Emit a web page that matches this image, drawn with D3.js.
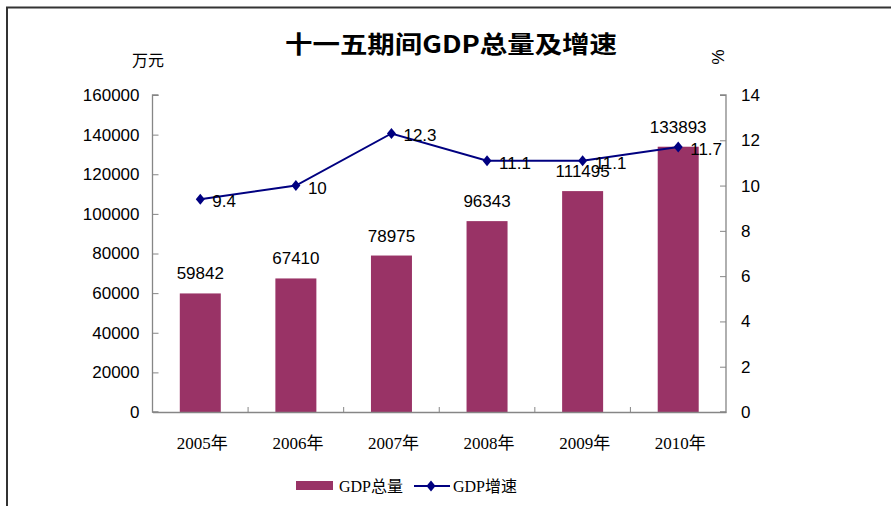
<!DOCTYPE html>
<html>
<head>
<meta charset="utf-8">
<script src="https://cdn.jsdelivr.net/npm/d3@7"></script>
<style>
  html, body { margin: 0; padding: 0; background: #fff; }
  svg { display: block; }
</style>
</head>
<body>
<svg id="chart" width="891" height="506"></svg>
<script>
// 十一五期间GDP总量及增速 — bars on the left axis, growth line on the right.
const YEARS = ["2005年", "2006年", "2007年", "2008年", "2009年", "2010年"];
const GDP = [59842, 67410, 78975, 96343, 111495, 133893];
const GROWTH = [9.4, 10, 12.3, 11.1, 11.1, 11.7];
const LEFT_TICKS = [0, 20000, 40000, 60000, 80000, 100000, 120000, 140000, 160000];
const RIGHT_TICKS = [0, 2, 4, 6, 8, 10, 12, 14];

const BAR = "#993366", LINE = "#000080", AXIS = "#868686";
const SANS = "'Liberation Sans', Arial, 'Noto Sans CJK SC', sans-serif";
const SERIF = "'Liberation Serif', 'Times New Roman', 'Noto Sans CJK SC', serif";

const svg = d3.select("#chart");
const L = 152.5, R = 726, T = 95, B = 412;

// frame
svg.append("path").attr("d", "M7,506 V7.5 H891")
  .attr("fill", "none").attr("stroke", "#333").attr("stroke-width", 2);

// title
svg.append("text").attr("x", 451).attr("y", 53).attr("text-anchor", "middle")
  .attr("font-family", "'Noto Sans CJK SC', sans-serif").attr("font-weight", "bold")
  .attr("font-size", 24).attr("textLength", 332).attr("lengthAdjust", "spacingAndGlyphs")
  .text("十一五期间GDP总量及增速");

const x = d3.scaleBand(YEARS, [L, R]).paddingInner(0).paddingOuter(0);
const y = d3.scaleLinear([0, 160000], [B, T]);
const y2 = d3.scaleLinear([0, 14], [B, T]);

// bars
const bw = 41;
svg.append("g").selectAll("rect").data(GDP).join("rect")
  .attr("x", (d, i) => x(YEARS[i]) + x.bandwidth() / 2 - bw / 2)
  .attr("y", (d) => y(d)).attr("width", bw).attr("height", (d) => B - y(d))
  .attr("fill", BAR);

// axes
const left = svg.append("g").attr("transform", `translate(${L},0)`)
  .call(d3.axisRight(y).tickValues(LEFT_TICKS).tickSize(6).tickFormat(d3.format("d")));
left.selectAll("text").attr("x", -13).attr("text-anchor", "end");
const right = svg.append("g").attr("transform", `translate(${R},0)`)
  .call(d3.axisLeft(y2).tickValues(RIGHT_TICKS).tickSize(6));
right.selectAll("text").attr("x", 15).attr("text-anchor", "start");
const bottom = svg.append("g").attr("transform", `translate(0,${B})`)
  .call(d3.axisBottom(x).tickSize(0).tickFormat(""));
// category ticks at band edges, pointing up
svg.append("g").selectAll("line").data(YEARS.slice(1)).join("line")
  .attr("x1", (d) => x(d)).attr("x2", (d) => x(d)).attr("y1", B).attr("y2", B - 5)
  .attr("stroke", AXIS);
svg.selectAll(".domain").attr("stroke", AXIS).attr("stroke-width", 1.3);
left.selectAll(".tick line").attr("stroke", AXIS);
right.selectAll(".tick line").attr("stroke", AXIS);
[left, right].forEach((g) => g.selectAll("text")
  .attr("font-family", SANS).attr("font-size", 17).attr("fill", "#000"));
left.select(".domain").attr("d", `M6,${B}H0V${T}H6`);
right.select(".domain").attr("d", `M-6,${B}H0V${T}H-6`);

// category labels
svg.append("g").selectAll("text").data(YEARS).join("text")
  .attr("x", (d) => x(d) + x.bandwidth() / 2 + 2).attr("y", 449)
  .attr("text-anchor", "middle").attr("font-family", SERIF).attr("font-size", 17)
  .text((d) => d);

// axis units
svg.append("text").attr("x", 148).attr("y", 66).attr("text-anchor", "middle")
  .attr("font-family", SERIF).attr("font-size", 16).text("万元");
svg.append("text").attr("transform", "translate(712,57) rotate(90)")
  .attr("text-anchor", "middle").attr("font-family", SANS).attr("font-size", 17).text("%");

// bar value labels
svg.append("g").selectAll("text").data(GDP).join("text")
  .attr("x", (d, i) => x(YEARS[i]) + x.bandwidth() / 2)
  .attr("y", (d) => y(d) - 14).attr("text-anchor", "middle")
  .attr("font-family", SANS).attr("font-size", 17).text((d) => d);

// growth line
const cx = (i) => x(YEARS[i]) + x.bandwidth() / 2;
svg.append("path").datum(GROWTH)
  .attr("d", d3.line().x((d, i) => cx(i)).y((d) => y2(d)))
  .attr("fill", "none").attr("stroke", LINE).attr("stroke-width", 2);
const diamond = "M0,-5.5L4.5,0L0,5.5L-4.5,0Z";
svg.append("g").selectAll("path").data(GROWTH).join("path")
  .attr("transform", (d, i) => `translate(${cx(i)},${y2(d)})`)
  .attr("d", diamond).attr("fill", LINE);
svg.append("g").selectAll("text").data(GROWTH).join("text")
  .attr("x", (d, i) => cx(i) + 12).attr("y", (d) => y2(d) + 8)
  .attr("font-family", SANS).attr("font-size", 17).text((d) => d);

// legend
const lg = svg.append("g").attr("font-family", SERIF).attr("font-size", 16);
lg.append("rect").attr("x", 296).attr("y", 481).attr("width", 37).attr("height", 9).attr("fill", BAR);
lg.append("text").attr("x", 339).attr("y", 492).text("GDP总量");
lg.append("line").attr("x1", 414).attr("x2", 450).attr("y1", 486).attr("y2", 486)
  .attr("stroke", LINE).attr("stroke-width", 2);
lg.append("path").attr("transform", "translate(431,486)").attr("d", diamond).attr("fill", LINE);
lg.append("text").attr("x", 453).attr("y", 492).text("GDP增速");
</script>
</body>
</html>
